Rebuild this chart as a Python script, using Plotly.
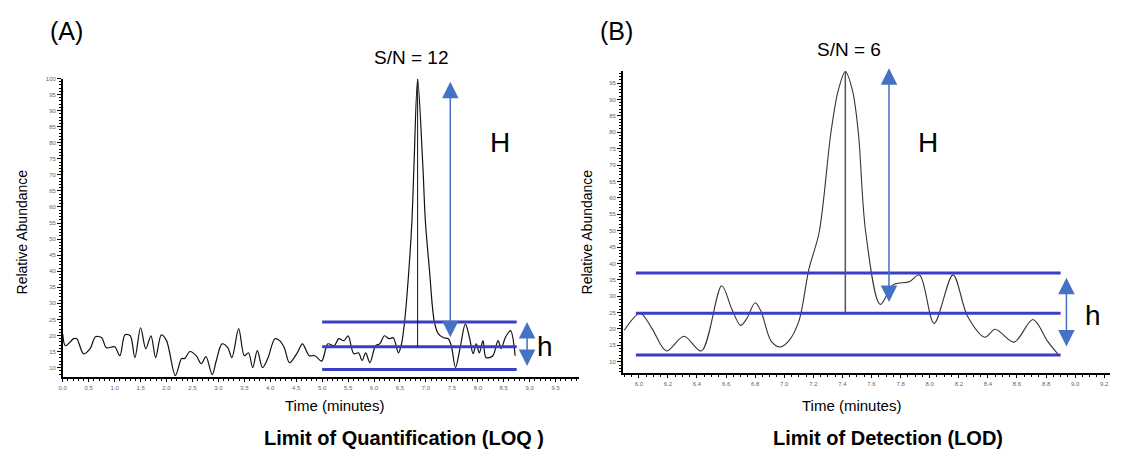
import plotly.graph_objects as go

W, H = 1128, 466

# ---- Data ----
time_a = [0.0, 0.05, 0.21, 0.27, 0.40, 0.53, 0.63, 0.75, 0.84, 1.00, 1.10, 1.20, 1.30, 1.39,
          1.50, 1.60, 1.70, 1.79, 1.90, 2.00, 2.17, 2.29, 2.35, 2.45, 2.57, 2.67, 2.76, 2.88,
          2.96, 3.07, 3.18, 3.26, 3.39, 3.50, 3.58, 3.66, 3.75, 3.85, 3.95, 4.09, 4.18, 4.27,
          4.37, 4.52, 4.62, 4.75, 4.86, 4.99, 5.11, 5.23, 5.32, 5.42, 5.50, 5.61, 5.70, 5.77,
          5.84, 5.92, 6.03, 6.11, 6.20, 6.29, 6.37, 6.47, 6.53, 6.59, 6.67, 6.73, 6.77, 6.84,
          6.94, 6.99, 7.07, 7.16, 7.24, 7.34, 7.43, 7.49, 7.57, 7.66, 7.76, 7.84, 7.91, 7.97,
          8.03, 8.10, 8.16, 8.29, 8.39, 8.45, 8.53, 8.63, 8.72]
abund_a = [20.5, 16.8, 19.0, 19.0, 14.3, 16.0, 19.6, 19.3, 16.2, 16.5, 13.7, 20.2, 19.9, 13.1,
           22.4, 15.9, 19.9, 13.1, 20.2, 18.4, 7.5, 12.8, 12.8, 15.0, 13.7, 11.2, 13.4, 7.8,
           12.2, 17.4, 16.2, 13.1, 22.1, 13.7, 14.6, 10.0, 15.3, 10.0, 12.8, 19.0, 18.4, 16.2,
           11.5, 14.6, 17.4, 13.7, 13.7, 12.0, 17.4, 16.8, 19.0, 18.4, 19.9, 14.3, 14.6, 12.2,
           14.6, 11.5, 16.8, 17.4, 19.9, 19.0, 19.3, 14.6, 17.4, 24.5, 40.0, 55.5, 73.0, 99.8,
           73.0, 55.5, 40.0, 24.5, 20.5, 19.3, 19.0, 16.8, 10.0, 16.2, 23.6, 19.3, 14.3, 17.4,
           14.6, 18.4, 13.1, 13.7, 18.4, 15.9, 19.3, 21.5, 13.7]

time_b = [5.90, 6.01, 6.09, 6.19, 6.31, 6.43, 6.57, 6.64, 6.70, 6.74, 6.80, 6.84, 6.91, 6.97,
          7.03, 7.10, 7.17, 7.24, 7.32, 7.37, 7.42, 7.47, 7.51, 7.56, 7.66, 7.75, 7.86, 7.93,
          8.03, 8.16, 8.26, 8.38, 8.45, 8.58, 8.71, 8.81, 8.88]
abund_b = [19.6, 24.8, 20.2, 13.3, 17.8, 13.3, 33.2, 26.0, 21.1, 23.0, 28.0, 25.4, 16.3, 14.5,
           16.3, 22.3, 38.3, 49.5, 79.6, 92.5, 98.5, 92.5, 79.6, 49.5, 27.5, 33.5, 34.4, 36.5,
           21.7, 36.5, 23.9, 17.5, 19.9, 16.0, 22.9, 16.3, 12.4]

# noise band levels (bottom, middle, top) and their time span
noise_a = [9.4, 16.5, 24.2]
noise_a_span = [5.0, 8.75]
noise_b = [12.1, 24.8, 37.1]
noise_b_span = [5.98, 8.90]

# peak apex (time, abundance)
peak_a = [6.84, 99.8]
peak_b = [7.42, 98.5]

# signal arrow "H" (time, low, high) and noise arrow "h" (time, low, high)
big_h_a = [7.47, 19.0, 99.0]
small_h_a = [8.95, 10.0, 24.2]
big_h_b = [7.72, 27.8, 99.5]
small_h_b = [8.94, 14.2, 35.6]

sn_labels = ["S/N = 12", "S/N = 6"]
panel_labels = ["(A)", "(B)"]
panel_titles = ["Limit of Quantification (LOQ )", "Limit of Detection (LOD)"]
x_title = "Time (minutes)"
y_title = "Relative Abundance"

FONT = "Liberation Sans, Arial, sans-serif"
NOISE_BLUE = "#3a3ec6"
ARROW_BLUE = "#4472c4"


def px(x):
    return x / W


def py(y):
    return 1 - y / H


fig = go.Figure()
fig.add_trace(go.Scatter(x=time_a, y=abund_a, mode="lines", xaxis="x", yaxis="y",
                         line=dict(color="#111111", width=1.2, shape="spline", smoothing=0.9),
                         hoverinfo="skip", showlegend=False))
fig.add_trace(go.Scatter(x=time_b, y=abund_b, mode="lines", xaxis="x2", yaxis="y2",
                         line=dict(color="#333333", width=1.1, shape="spline", smoothing=0.9),
                         hoverinfo="skip", showlegend=False))

shapes = []
for lvl in noise_a:
    shapes.append(dict(type="line", xref="x", yref="y", x0=noise_a_span[0], x1=noise_a_span[1],
                       y0=lvl, y1=lvl, line=dict(color=NOISE_BLUE, width=3)))
for lvl in noise_b:
    shapes.append(dict(type="line", xref="x2", yref="y2", x0=noise_b_span[0], x1=noise_b_span[1],
                       y0=lvl, y1=lvl, line=dict(color=NOISE_BLUE, width=3)))
shapes.append(dict(type="line", xref="x", yref="y", x0=peak_a[0], x1=peak_a[0],
                   y0=noise_a[1], y1=peak_a[1], line=dict(color="#111111", width=1)))
shapes.append(dict(type="line", xref="x2", yref="y2", x0=peak_b[0], x1=peak_b[0],
                   y0=noise_b[1], y1=peak_b[1], line=dict(color="#555555", width=1.5)))

ann = []


def arrow(xr, yr, spec):
    t, lo, hi = spec
    ann.append(dict(x=t, y=hi, ax=t, ay=lo, xref=xr, yref=yr, axref=xr, ayref=yr,
                    text="", showarrow=True, arrowside="end+start", arrowhead=2,
                    startarrowhead=2, arrowsize=2.2, startarrowsize=2.2, arrowwidth=1.5,
                    arrowcolor=ARROW_BLUE, standoff=0, startstandoff=0))


arrow("x", "y", big_h_a)
arrow("x", "y", small_h_a)
arrow("x2", "y2", big_h_b)
arrow("x2", "y2", small_h_b)


def text(s, x, y, size, bold=False, angle=0, color="black"):
    ann.append(dict(text=f"<b>{s}</b>" if bold else s, x=px(x), y=py(y), xref="paper",
                    yref="paper", showarrow=False, xanchor="center", yanchor="middle",
                    textangle=angle, font=dict(family=FONT, size=size, color=color)))


text(panel_labels[0], 63, 28, 25)
text(panel_labels[1], 615, 28, 25)
text(sn_labels[0], 408, 55, 19)
text(sn_labels[1], 848, 47, 19)
text("H", 498, 140, 28)
text("H", 927, 140, 28)
text("h", 543, 346, 28)
text("h", 1093, 315, 28)
text(y_title, 18, 230, 14, angle=-90)
text(y_title, 585, 230, 14, angle=-90)
text(x_title, 332, 405, 15)
text(x_title, 851, 405, 15)
text(panel_titles[0], 401, 438, 20, bold=True)
text(panel_titles[1], 887, 438, 20, bold=True)

axis_common = dict(showline=True, linecolor="black", linewidth=1.5, ticks="outside",
                   ticklen=4, tickwidth=1, tickcolor="black", showgrid=False, zeroline=False,
                   tickfont=dict(family=FONT, size=6, color="#666666"), fixedrange=True)

fig.update_layout(
    width=W, height=H, margin=dict(l=0, r=0, t=0, b=0),
    paper_bgcolor="white", plot_bgcolor="white", showlegend=False,
    shapes=shapes, annotations=ann,
    xaxis=dict(domain=[px(59), px(577)], anchor="y", range=[0, 9.95], tick0=0, dtick=0.5,
               tickformat=".1f",
               minor=dict(dtick=0.1, tick0=0, ticks="outside", ticklen=2.5, tickcolor="black"),
               **axis_common),
    yaxis=dict(domain=[py(376), py(76)], anchor="x", range=[7.2, 100], tick0=0, dtick=5,
               minor=dict(dtick=1, tick0=0, ticks="outside", ticklen=2.5, tickcolor="black"),
               **axis_common),
    xaxis2=dict(domain=[px(621), px(1110)], anchor="y2", range=[5.89, 9.24], tick0=0,
                dtick=0.2, tickformat=".1f",
                minor=dict(dtick=0.05, tick0=0, ticks="outside", ticklen=2.5, tickcolor="black"),
                **axis_common),
    yaxis2=dict(domain=[py(372), py(68)], anchor="x2", range=[6.7, 98.8], tick0=0, dtick=5,
                minor=dict(dtick=1, tick0=0, ticks="outside", ticklen=2.5, tickcolor="black"),
                **axis_common),
)

fig.write_html("out.html", config={"displayModeBar": False},
               post_script="document.body.style.margin='0';document.body.style.overflow='hidden';")
